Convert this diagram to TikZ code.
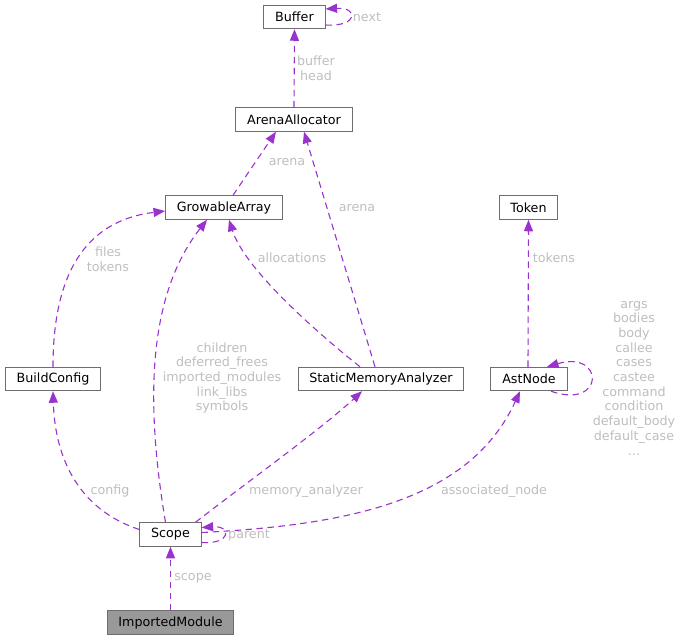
\documentclass[tikz,border=0pt]{standalone}
\usepackage{fontspec}
\setmainfont{DejaVu Sans}
\usetikzlibrary{arrows.meta, calc}
\definecolor{cEdge}{RGB}{154,50,205}
\definecolor{cLabel}{RGB}{190,190,190}
\definecolor{cBorder}{RGB}{110,110,110}
\definecolor{cCurrent}{RGB}{153,153,153}
\tikzset{
	cls/.style   ={rectangle, draw=cBorder, fill=white, line width=1pt, minimum height=23.5pt, inner xsep=11.3pt, inner ysep=0pt, text=black, font=\fontsize{12.7}{14.7}\selectfont},
	curcls/.style={cls, fill=cCurrent},
	lbl/.style   ={text=cLabel, align=center, inner sep=0pt, font=\fontsize{12.7}{14.7}\selectfont},
	uses/.style  ={draw=cEdge, line width=1.1pt, dash pattern=on 6.5pt off 4.5pt, -{Triangle[length=11.5pt, width=9pt]}},
}

\begin{document}
\begin{tikzpicture}[x=1pt, y=-1pt]
	\useasboundingbox (0,0) rectangle (683,641);
	% ---------------- classes ----------------
	\node[cls] (buffer)   at (294.5,17)    {Buffer};
	\node[cls] (arena)    at (294,119.5)   {ArenaAllocator};
	\node[cls] (growable) at (224,207.5)   {GrowableArray};
	\node[cls] (token)    at (528.5,207.5) {Token};
	\node[cls] (buildcfg) at (53,379)      {BuildConfig};
	\node[cls] (sma)      at (381,379)     {StaticMemoryAnalyzer};
	\node[cls] (astnode)  at (529,379)     {AstNode};
	\node[cls] (scope)    at (170.5,534.5) {Scope};
	\node[curcls] (imported) at (170.5,622.5) {ImportedModule};
	% ---------------- edges ----------------
	\draw[uses] ($(buffer.east)+(0,8)$) .. controls +(33,2) and +(33,-2) .. ($(buffer.east)+(0,-8)$);
	\draw[uses] (arena.north) -- (buffer.south);
	\draw[uses] ($(growable.north)+(9,0)$) -- ($(arena.south)+(-18,0)$);
	\draw[uses] ($(sma.north)+(-6,0)$) -- ($(arena.south)+(10,0)$);
	\draw[uses] ($(sma.north)+(-21,0)$) .. controls (320,335) and (245,270) .. ($(growable.south)+(5,0)$);
	\draw[uses] (buildcfg.north) .. controls (53,290) and (75,222) .. ($(growable.west)+(0,3.5)$);
	\draw[uses] ($(scope.north)+(-5,0)$) .. controls (145,400) and (148,295) .. ($(growable.south)+(-17,0)$);
	\draw[uses] ($(scope.west)+(0,-5)$) .. controls (80,510) and (55,460) .. (buildcfg.south);
	\draw[uses] ($(scope.north)+(25,0)$) .. controls (250,480) and (320,430) .. ($(sma.south)+(-19,0)$);
	\draw[uses] ($(scope.east)+(0,-2)$) .. controls (350,525) and (470,500) .. ($(astnode.south)+(-9,0)$);
	\draw[uses] ($(scope.east)+(0,8)$) .. controls +(30,2) and +(30,-2) .. ($(scope.east)+(0,-7)$);
	\draw[uses] (imported.north) -- (scope.south);
	\draw[uses] ($(astnode.north)+(-1,0)$) -- (token.south);
	\draw[uses] ($(astnode.south)+(22,0)$) .. controls (605,410) and (605,350) .. ($(astnode.north)+(18,0)$);
	% ---------------- labels ----------------
	\node[lbl] (lNext)     at (367,17)  {next};
	\node[lbl] (lBufHead)  at (316,68)  {buffer\\head};
	\node[lbl] (lArenaA)   at (287,162) {arena};
	\node[lbl] (lArenaB)   at (357,208) {arena};
	\node[lbl] (lAlloc)    at (292,258) {allocations};
	\node[lbl] (lFiles)    at (108,259) {files\\tokens};
	\node[lbl] (lTokens)   at (554,258) {tokens};
	\node[lbl] (lChildren) at (222,378) {children\\deferred\_frees\\imported\_modules\\link\_libs\\symbols};
	\node[lbl] (lAst)      at (634,378) {args\\bodies\\body\\callee\\cases\\castee\\command\\condition\\default\_body\\default\_case\\...};
	\node[lbl] (lConfig)   at (110,491) {config};
	\node[lbl] (lMem)      at (306,491) {memory\_analyzer};
	\node[lbl] (lAssoc)    at (494,491) {associated\_node};
	\node[lbl] (lParent)   at (249,535) {parent};
	\node[lbl] (lScope)    at (193,578) {scope};
\end{tikzpicture}
\end{document}
